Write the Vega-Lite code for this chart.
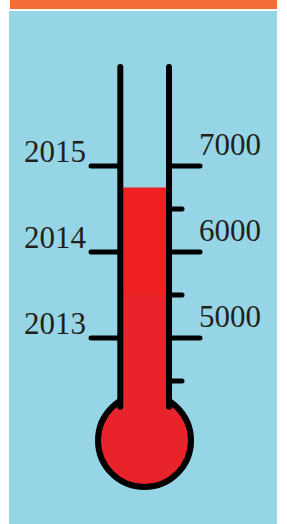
{
  "$schema": "https://vega.github.io/schema/vega-lite/v6.json",
  "width": 287,
  "height": 524,
  "autosize": {"type": "fit", "contains": "padding"},
  "padding": 0,
  "background": "#ffffff",
  "config": {"view": {"stroke": null}},
  "datasets": {
    "frame": [{"panel": "frame"}],
    "scale": [
      {"amount": 7000, "year": "2015"},
      {"amount": 6000, "year": "2014"},
      {"amount": 5000, "year": "2013"}
    ],
    "minor": [{"amount": 6500}, {"amount": 5500}, {"amount": 4500}],
    "fill": [
      {"part": "earlier", "from": 4000, "to": 5500},
      {"part": "latest", "from": 5500, "to": 6750}
    ]
  },
  "layer": [
    {
      "data": {"name": "frame"},
      "mark": {"type": "rect", "color": "#f26d38"},
      "encoding": {
        "x": {"datum": 10, "type": "quantitative", "scale": {"domain": [0, 287], "nice": false, "zero": false}, "axis": null},
        "x2": {"datum": 277},
        "y": {"datum": 8930, "type": "quantitative", "scale": {"domain": [2837, 8930], "nice": false, "zero": false}, "axis": null},
        "y2": {"datum": 8826}
      }
    },
    {
      "data": {"name": "frame"},
      "mark": {"type": "rect", "color": "#95d5e6"},
      "encoding": {
        "x": {"datum": 9, "type": "quantitative"},
        "x2": {"datum": 277},
        "y": {"datum": 8802, "type": "quantitative"},
        "y2": {"datum": 2837}
      }
    },
    {
      "data": {"name": "frame"},
      "mark": {"type": "point", "shape": "circle", "filled": true, "fill": "#e8232a", "stroke": "#000000", "strokeWidth": 6, "opacity": 1, "size": 8649},
      "encoding": {
        "x": {"datum": 144.5, "type": "quantitative"},
        "y": {"datum": 3808, "type": "quantitative"}
      }
    },
    {
      "data": {"name": "fill"},
      "mark": {"type": "rect"},
      "encoding": {
        "x": {"datum": 123, "type": "quantitative"},
        "x2": {"datum": 166},
        "y": {"field": "from", "type": "quantitative"},
        "y2": {"field": "to"},
        "color": {"field": "part", "type": "nominal", "scale": {"domain": ["earlier", "latest"], "range": ["#e8232a", "#ee2024"]}, "legend": null}
      }
    },
    {
      "data": {"name": "frame"},
      "mark": {"type": "rule", "color": "#000000", "strokeWidth": 6, "strokeCap": "round"},
      "encoding": {
        "x": {"datum": 120.3, "type": "quantitative"},
        "y": {"datum": 8150, "type": "quantitative"},
        "y2": {"datum": 4200}
      }
    },
    {
      "data": {"name": "frame"},
      "mark": {"type": "rule", "color": "#000000", "strokeWidth": 6, "strokeCap": "round"},
      "encoding": {
        "x": {"datum": 169, "type": "quantitative"},
        "y": {"datum": 8150, "type": "quantitative"},
        "y2": {"datum": 4200}
      }
    },
    {
      "data": {"name": "scale"},
      "mark": {"type": "rule", "color": "#000000", "strokeWidth": 5, "strokeCap": "round"},
      "encoding": {
        "x": {"datum": 91, "type": "quantitative"},
        "x2": {"datum": 120},
        "y": {"field": "amount", "type": "quantitative"}
      }
    },
    {
      "data": {"name": "scale"},
      "mark": {"type": "rule", "color": "#000000", "strokeWidth": 5, "strokeCap": "round"},
      "encoding": {
        "x": {"datum": 169, "type": "quantitative"},
        "x2": {"datum": 200},
        "y": {"field": "amount", "type": "quantitative"}
      }
    },
    {
      "data": {"name": "minor"},
      "mark": {"type": "rule", "color": "#000000", "strokeWidth": 5, "strokeCap": "round"},
      "encoding": {
        "x": {"datum": 169, "type": "quantitative"},
        "x2": {"datum": 182},
        "y": {"field": "amount", "type": "quantitative"}
      }
    },
    {
      "data": {"name": "scale"},
      "mark": {"type": "text", "align": "right", "baseline": "alphabetic", "dy": -4, "font": "Liberation Serif", "fontSize": 31, "color": "#231f20"},
      "encoding": {
        "x": {"datum": 86, "type": "quantitative"},
        "y": {"field": "amount", "type": "quantitative"},
        "text": {"field": "year"}
      }
    },
    {
      "data": {"name": "scale"},
      "mark": {"type": "text", "align": "left", "baseline": "alphabetic", "dy": -11, "font": "Liberation Serif", "fontSize": 31, "color": "#231f20"},
      "encoding": {
        "x": {"datum": 199, "type": "quantitative"},
        "y": {"field": "amount", "type": "quantitative"},
        "text": {"field": "amount", "type": "quantitative", "format": "d"}
      }
    }
  ]
}
